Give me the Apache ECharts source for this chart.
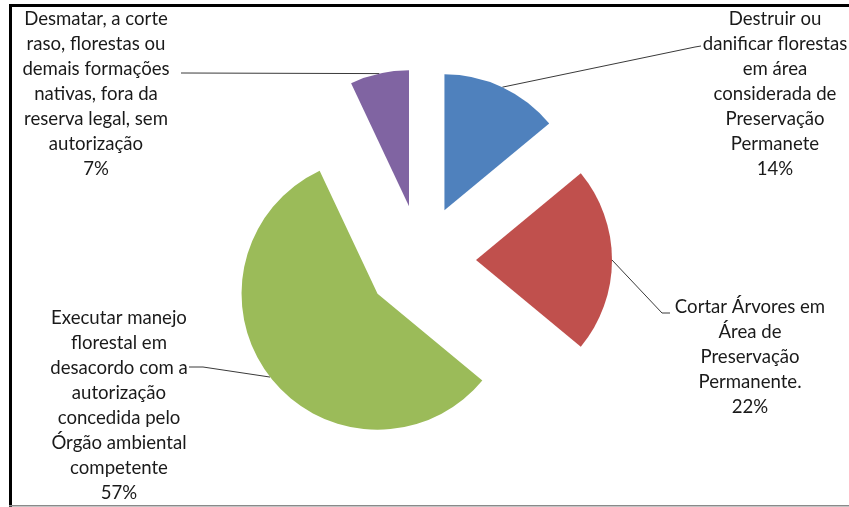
<!DOCTYPE html>
<html>
<head>
<meta charset="utf-8">
<script src="https://cdn.jsdelivr.net/npm/echarts@6/dist/echarts.min.js"></script>
<style>
  html, body { margin: 0; padding: 0; background: #fff; }
  #chart { width: 849px; height: 507px; }
</style>
</head>
<body>
<div id="chart"></div>
<script>
// Categories (already broken into display lines) and their shares
const categories = [
  'Destruir ou\ndanificar florestas\nem área\nconsiderada de\nPreservação\nPermanete',
  'Cortar Árvores em\nÁrea de\nPreservação\nPermanente.',
  'Executar manejo\nflorestal em\ndesacordo com a\nautorização\nconcedida pelo\nÓrgão ambiental\ncompetente',
  'Desmatar, a corte\nraso, florestas ou\ndemais formações\nnativas, fora da\nreserva legal, sem\nautorização'
];
const values = [14, 22, 57, 7];
const colors = ['#4F81BD', '#C0504D', '#9BBB59', '#8064A2'];

// Pie geometry
const pieCenter = [421, 260];
const pieRadius = 136;
const explode = 55;

// Label placement: block centre, plus leader bend / end points
const labelPlace = [
  { x: 775, y: 94,  bend: [695, 47],  end: [701, 46] },
  { x: 750, y: 357, bend: [662, 313], end: [670, 313] },
  { x: 119, y: 405, bend: [203, 367], end: [189, 367] },
  { x: 96,  y: 94,  bend: [184, 73],  end: [181, 73] }
];

const total = values.reduce((a, b) => a + b, 0);

// One pie per slice so each slice can be pushed out along its own bisector
const series = values.map((v, i) => {
  const before = values.slice(0, i).reduce((a, b) => a + b, 0);
  const mid = (before + v / 2) / total * 2 * Math.PI; // clockwise from 12 o'clock
  const cx = pieCenter[0] + Math.sin(mid) * explode;
  const cy = pieCenter[1] - Math.cos(mid) * explode;
  const place = labelPlace[i];
  return {
    type: 'pie',
    center: [cx, cy],
    radius: [0, pieRadius],
    startAngle: 90,
    clockwise: true,
    avoidLabelOverlap: false,
    silent: true,
    animation: false,
    emphasis: { disabled: true },
    label: {
      show: true,
      formatter: '{b}\n{d}%',
      color: '#1a1a1a',
      fontFamily: 'Lato',
      fontSize: 18.6,
      lineHeight: 25,
      align: 'center'
    },
    labelLine: {
      show: true,
      lineStyle: { color: '#3a3a3a', width: 1 }
    },
    labelLayout: function (params) {
      if (params.dataIndex !== i) return {};
      const anchor = params.labelLinePoints ? params.labelLinePoints[0] : null;
      const out = {
        x: place.x,
        y: place.y,
        align: 'center',
        verticalAlign: 'middle'
      };
      if (anchor) {
        out.labelLinePoints = [[anchor[0], anchor[1]], place.bend, place.end];
      }
      return out;
    },
    data: categories.map((name, j) => ({
      name: name,
      value: values[j],
      itemStyle: { color: j === i ? colors[j] : 'rgba(0,0,0,0)', borderWidth: 0 },
      label: { show: j === i },
      labelLine: { show: j === i }
    }))
  };
});

const chart = echarts.init(document.getElementById('chart'), null, { renderer: 'canvas' });
chart.setOption({
  backgroundColor: '#ffffff',
  animation: false,
  series: series,
  graphic: [
    { type: 'rect', shape: { x: 9, y: 4, width: 840, height: 3 }, style: { fill: '#000' }, silent: true },
    { type: 'rect', shape: { x: 9, y: 4, width: 3, height: 503 }, style: { fill: '#000' }, silent: true },
    { type: 'rect', shape: { x: 9, y: 505, width: 840, height: 1.5 }, style: { fill: '#8a8a8a' }, silent: true }
  ]
});
</script>
</body>
</html>
